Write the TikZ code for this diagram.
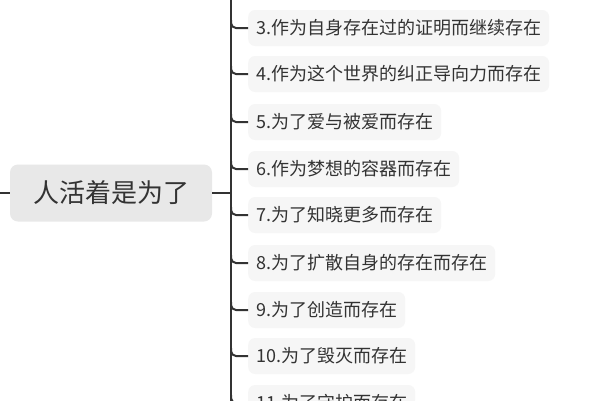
\documentclass[tikz,border=0pt]{standalone}
\usepackage{fontspec}
\setmainfont{Noto Sans CJK SC}
\begin{document}
\begin{tikzpicture}[x=1pt,y=-1pt,
  root/.style={fill=gray!18,rounded corners=8pt,minimum width=202pt,minimum height=57pt,font=\fontsize{26}{30}\selectfont,text=black!80},
  item/.style={fill=gray!7,rounded corners=7pt,minimum height=36pt,inner xsep=8pt,anchor=west,font=\fontsize{18}{22}\selectfont,text=black!80},
  conn/.style={draw=black!80,line width=2pt}]
\clip (0,0) rectangle (600,400);
\fill[white] (0,0) rectangle (600,400);
\node[root] (r) at (111,193) {人活着是为了};
\coordinate (l) at (0,193);
\coordinate (t) at (231,-30);
\coordinate (b) at (231,430);
\draw[conn] (l) -- (r.west);
\draw[conn] (r.east) -- (231,193);
\draw[conn] (t) -- (b);
\foreach \n/\y/\txt in {3/28/3.作为自身存在过的证明而继续存在,4/74/4.作为这个世界的纠正导向力而存在,5/122/5.为了爱与被爱而存在,6/169/6.作为梦想的容器而存在,7/215/7.为了知晓更多而存在,8/263/8.为了扩散自身的存在而存在,9/310/9.为了创造而存在,10/356/10.为了毁灭而存在,11/403/11.为了守护而存在}{
  \node[item] (i\n) at (248,\y) {\txt};
  \draw[conn,rounded corners=5pt] (231,\y-8) |- (i\n.west);
}
\end{tikzpicture}
\end{document}
